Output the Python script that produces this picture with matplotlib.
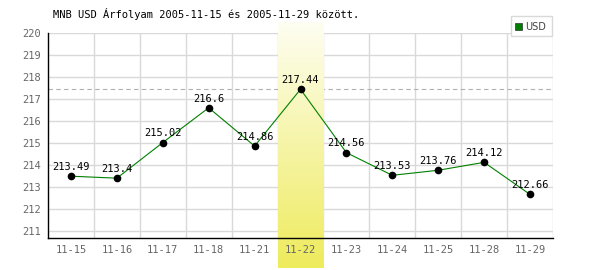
import numpy as np
import matplotlib.pyplot as plt
from matplotlib.patches import Rectangle
from matplotlib.colors import LinearSegmentedColormap

dates = ['11-15', '11-16', '11-17', '11-18', '11-21', '11-22',
         '11-23', '11-24', '11-25', '11-28', '11-29']
usd = [213.49, 213.4, 215.02, 216.6, 214.86, 217.44,
       214.56, 213.53, 213.76, 214.12, 212.66]
yticks = [211, 212, 213, 214, 215, 216, 217, 218, 219, 220]
title = 'MNB USD Árfolyam 2005-11-15 és 2005-11-29 között.'

plt.rcParams['font.family'] = ['DejaVu Sans Mono']

fig = plt.figure(figsize=(6, 2.7), dpi=100)
ax = fig.add_axes([48/600, 1-238/270, 505/600, 205/270])
ax.set_axisbelow(False)

x = np.arange(len(dates))
ymin, ymax = 210.68, 220

# grid
for yv in yticks:
    ax.axhline(yv, color='#d9d9d9', lw=1, zorder=0)
for xb in np.arange(0.5, len(dates), 1.0):
    ax.axvline(xb, color='#d9d9d9', lw=1, zorder=0)

# max dashed line
imax = int(np.argmax(usd))
ax.axhline(usd[imax], color='#b0b0b0', lw=0.8, ls=(0, (4, 3)), zorder=1)

# highlight band (gradient), spills below the axis
grad = np.linspace(0, 1, 256).reshape(-1, 1)
cm = LinearSegmentedColormap.from_list('hl', ['#fefef2', '#eeeb5c'])
band_bot = ymin - 30/22.0
band_top = ymax + 11/22.0
ax.imshow(grad, cmap=cm, aspect='auto', origin='upper',
          extent=(imax - 0.5, imax + 0.5, band_bot, band_top),
          zorder=2, clip_on=False)
ax.set_xlim(-0.5, len(dates) - 0.5)
ax.set_ylim(ymin, ymax)

ax.plot(x, usd, color='#008000', lw=0.8, zorder=3)
ax.plot(x, usd, 'o', color='black', ms=4.5, zorder=4)
for xi, v in zip(x, usd):
    ax.annotate(f'{v:g}', (xi, v), xytext=(0, 3), textcoords='offset points',
                ha='center', va='bottom', fontsize=7.5, color='black', zorder=5)

ax.set_xticks(x)
ax.set_xticklabels(dates)
ax.set_yticks(yticks)
ax.tick_params(length=0, labelsize=7.5, labelcolor='#666666', pad=5)
for s in ['top', 'right']:
    ax.spines[s].set_visible(False)
for s in ['left', 'bottom']:
    ax.spines[s].set_color('black')
    ax.spines[s].set_linewidth(1)
    ax.spines[s].set_zorder(6)

fig.text(53/600, 1-18/270, title, fontsize=7.5, va='baseline', ha='left')

# legend box
fig.patches.append(Rectangle((511/600, 1-36/270), 41/600, 20/270,
                             transform=fig.transFigure, facecolor='white',
                             edgecolor='#d9d9d9', lw=1, zorder=7))
fig.patches.append(Rectangle((515/600, 1-30/270), 7/600, 7/270,
                             transform=fig.transFigure, facecolor='#008000',
                             edgecolor='#333333', lw=0.5, zorder=8))
fig.text(525/600, 1-26.5/270, 'USD', fontsize=7, va='center', ha='left',
         color='#444444', family='DejaVu Sans', zorder=9)

fig.savefig('out.png', dpi=100)
